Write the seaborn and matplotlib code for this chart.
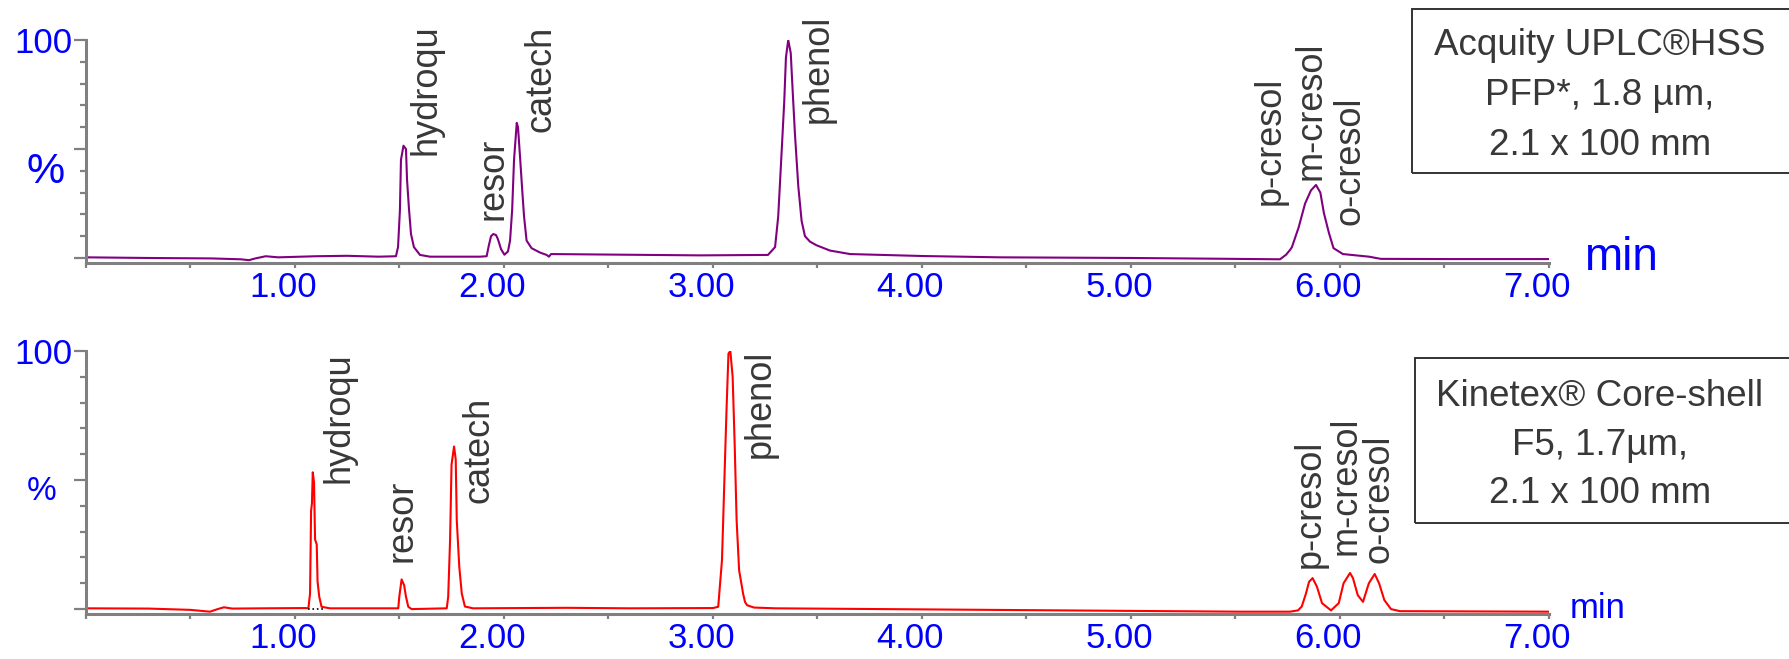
import numpy as np
import pandas as pd
import matplotlib.pyplot as plt
import seaborn as sns
from matplotlib.patches import Rectangle
from matplotlib.ticker import MultipleLocator, FixedLocator
import matplotlib.transforms as mtransforms

# ─────────────────────────────────────────
# Data (time in min, response in %)
# ─────────────────────────────────────────
# Acquity UPLC HSS PFP trace (purple)
top_t = [0.00, 0.30, 0.60, 0.74, 0.78, 0.81, 0.86, 0.92, 1.10, 1.25, 1.40, 1.483,
         1.493, 1.502, 1.507, 1.519, 1.531, 1.536, 1.545, 1.555, 1.569, 1.598, 1.646,
         1.885, 1.917, 1.928, 1.938, 1.949, 1.962, 1.971, 1.986, 2.002,
         2.019, 2.029, 2.039, 2.048, 2.061, 2.067, 2.077, 2.088, 2.096, 2.108, 2.132,
         2.172, 2.204, 2.215, 2.225, 2.459, 2.938,
         3.263, 3.297, 3.312, 3.328, 3.341, 3.349, 3.360, 3.372, 3.381, 3.392, 3.408,
         3.424, 3.440, 3.464, 3.496, 3.560, 3.656, 4.005, 4.373, 5.010, 5.488, 5.713,
         5.742, 5.761, 5.770, 5.802, 5.833, 5.861, 5.885, 5.906, 5.923, 5.947, 5.969,
         6.014, 6.139, 6.195, 6.526, 7.00]
top_pct = [0.3, 0.0, -0.2, -0.6, -1.0, -0.2, 0.8, 0.3, 0.8, 1.0, 0.6, 0.8,
           5, 22, 45, 51.5, 50, 36, 23, 11, 5, 1.4, 0.6,
           0.6, 0.8, 6, 10, 11, 10.5, 8.6, 4, 1.5,
           3, 8, 22, 45, 62, 60, 46, 30, 19, 8, 4.5,
           2.5, 1.4, 0.6, 1.8, 1.6, 1.2,
           1.4, 5, 19, 48, 72, 92, 100, 94, 77, 57, 33,
           17, 10, 7.5, 5.8, 3.4, 1.8, 0.9, 0.3, 0.0, -0.4, -0.6,
           1.5, 3.7, 5, 14, 25, 31, 33.5, 30, 20.6, 11.5, 4.5,
           1.8, 0.6, -0.4, -0.5, -0.5]

# Kinetex Core-shell F5 trace (red)
bottom_t = [0.00, 0.30, 0.50, 0.593, 0.63, 0.66, 0.70, 0.85, 1.05,
            1.064, 1.072, 1.077, 1.081, 1.085, 1.091, 1.096, 1.104, 1.108, 1.116, 1.127, 1.167,
            1.494, 1.499, 1.510, 1.522, 1.531, 1.542, 1.558,
            1.726, 1.733, 1.742, 1.749, 1.761, 1.769, 1.774, 1.786, 1.798, 1.813, 1.852,
            2.30, 2.60, 3.00,
            3.025, 3.043, 3.053, 3.065, 3.074, 3.083, 3.094, 3.104, 3.113, 3.125, 3.144,
            3.153, 3.163, 3.196, 3.300, 4.496, 5.522, 5.761,
            5.799, 5.817, 5.837, 5.852, 5.869, 5.890, 5.914, 5.957,
            5.994, 6.017, 6.048, 6.062, 6.085, 6.110,
            6.138, 6.166, 6.187, 6.212, 6.244, 6.287, 7.00]
bottom_pct = [0.3, 0.2, -0.3, -1.0, 0.0, 0.7, 0.2, 0.3, 0.4,
              0.3, 6, 38, 41, 53, 49, 27, 25, 10.6, 4.8, 0.9, 0.3,
              0.3, 4.8, 11.5, 9.3, 4.8, 0.9, 0.0,
              0.3, 4.8, 26.7, 56, 63, 58, 34.5, 16.4, 6, 1, 0.3,
              0.5, 0.3, 0.4,
              0.9, 19, 46, 78, 99, 100, 90, 63, 34.5, 15, 6,
              2.8, 1.5, 0.6, 0.3, -0.4, -1.0, -1.0,
              -0.5, 1, 6, 10.6, 12, 8.6, 2.3, -0.5,
              2.3, 10, 14, 12, 5.4, 2.8,
              10, 13.6, 10, 3.5, 0.0, -0.8, -1.0]

# integration baseline drawn under hydroquinone (bottom trace)
integ_t = [1.062, 1.144]
integ_pct = [0.1, 0.1]

peak_names = ["hydroqu", "resor", "catech", "phenol", "p-cresol", "m-cresol", "o-cresol"]
time_ticks = [1, 2, 3, 4, 5, 6, 7]
time_ticklabels = ["1.00", "2.00", "3.00", "4.00", "5.00", "6.00", "7.00"]

top_column = ["Acquity UPLC®HSS", "PFP*, 1.8 µm,", "2.1 x 100 mm"]
bottom_column = ["Kinetex® Core-shell", "F5, 1.7µm,", "2.1 x 100 mm"]

# label anchors (min, %) for the peak names
top_label_x = [1.627, 1.947, 2.177, 3.502, 5.665, 5.861, 6.048]
top_label_y = [47.2, 17.4, 57.8, 61.9, 24.3, 35.8, 15.1]
bottom_label_x = [1.211, 1.512, 1.880, 3.225, 5.856, 6.029, 6.187]
bottom_label_y = [48.8, 18.2, 41.1, 58.5, 15.9, 20.9, 17.8]

# ─────────────────────────────────────────
# Figure
# ─────────────────────────────────────────
sns.set_style("white")
plt.rcParams['font.family'] = ['Liberation Sans', 'DejaVu Sans']

W, H = 1790, 659
fig = plt.figure(figsize=(W / 100, H / 100), dpi=100)

BLUE = "#0000FF"
GREY = "#808080"
TEXT = "#383838"


def px_axes(left, top, right, bottom):
    return fig.add_axes([left / W, 1 - bottom / H, (right - left) / W, (bottom - top) / H])


def style_axes(ax, ymin):
    ax.set_xlim(0, 7)
    ax.set_ylim(ymin, 100)
    for s in ["top", "right"]:
        ax.spines[s].set_visible(False)
    for s in ["left", "bottom"]:
        ax.spines[s].set_color(GREY)
        ax.spines[s].set_linewidth(2.2)
    ax.xaxis.set_major_locator(FixedLocator(time_ticks))
    ax.set_xticklabels(time_ticklabels)
    ax.xaxis.set_minor_locator(MultipleLocator(0.5))
    ax.tick_params(axis="x", which="both", direction="out", length=3.6, width=1.6,
                   color=GREY, labelcolor=BLUE, labelsize=25, pad=2, bottom=True)
    ax.set_yticks([0, 50, 100])
    ax.set_yticklabels(["", "", "100"])
    ax.yaxis.set_minor_locator(MultipleLocator(10))
    ax.tick_params(axis="y", which="major", direction="out", length=8.6, width=1.6,
                   color=GREY, labelcolor=BLUE, labelsize=25, pad=1, left=True)
    ax.tick_params(axis="y", which="minor", direction="out", length=4.3, width=1.6,
                   color=GREY, left=True)
    # tick labels sit slightly left of their ticks in the original
    offset = mtransforms.ScaledTranslation(-12 / 100, 0, fig.dpi_scale_trans)
    for lbl in ax.get_xticklabels():
        lbl.set_transform(lbl.get_transform() + offset)
    ax.set_xlabel("")
    ax.set_ylabel("")
    ax.patch.set_alpha(0)


# --- top panel ---
ax1 = px_axes(86, 40, 1549, 263)
top_df = pd.DataFrame({"t": top_t, "pct": top_pct})
sns.lineplot(data=top_df, x="t", y="pct", ax=ax1, color="#800080", lw=1.5,
             estimator=None, sort=False)
style_axes(ax1, -2.3)
for name, x, y in zip(peak_names, top_label_x, top_label_y):
    ax1.text(x, y, name, rotation=90, ha="center", va="bottom", fontsize=26,
             color=TEXT, clip_on=False)
ax1.text(-0.0273, 0.408, "%", transform=ax1.transAxes, ha="center", va="center",
         fontsize=31, color=BLUE)
ax1.text(1.024, -0.03, "min", transform=ax1.transAxes, ha="left", va="baseline",
         fontsize=33, color=BLUE)

# --- bottom panel ---
ax2 = px_axes(86, 351, 1549, 614)
bottom_df = pd.DataFrame({"t": bottom_t, "pct": bottom_pct})
sns.lineplot(data=bottom_df, x="t", y="pct", ax=ax2, color="#FF0000", lw=1.5,
             estimator=None, sort=False)
ax2.plot(integ_t, integ_pct, linestyle=":", color="black", lw=1.2)
style_axes(ax2, -1.9)
for name, x, y in zip(peak_names, bottom_label_x, bottom_label_y):
    ax2.text(x, y, name, rotation=90, ha="center", va="bottom", fontsize=26,
             color=TEXT, clip_on=False)
ax2.text(-0.030, 0.464, "%", transform=ax2.transAxes, ha="center", va="center",
         fontsize=24, color=BLUE)
ax2.text(1.014, -0.015, "min", transform=ax2.transAxes, ha="left", va="baseline",
         fontsize=25, color=BLUE)

# --- column description boxes ---
for (x0, y0, y1), lines, baselines in [((1412, 9, 173), top_column, [55, 105, 155]),
                                        ((1415, 358, 523), bottom_column, [406, 455, 503])]:
    fig.patches.append(Rectangle((x0 / W, 1 - y1 / H), (1800 - x0) / W, (y1 - y0) / H,
                                 transform=fig.transFigure, fill=False,
                                 edgecolor="#333333", lw=1.4))
    for line, yb in zip(lines, baselines):
        fig.text(1600 / W, 1 - yb / H, line, ha="center", va="baseline",
                 fontsize=26.5, color=TEXT)

plt.savefig("out.png", dpi=100)
plt.close()
